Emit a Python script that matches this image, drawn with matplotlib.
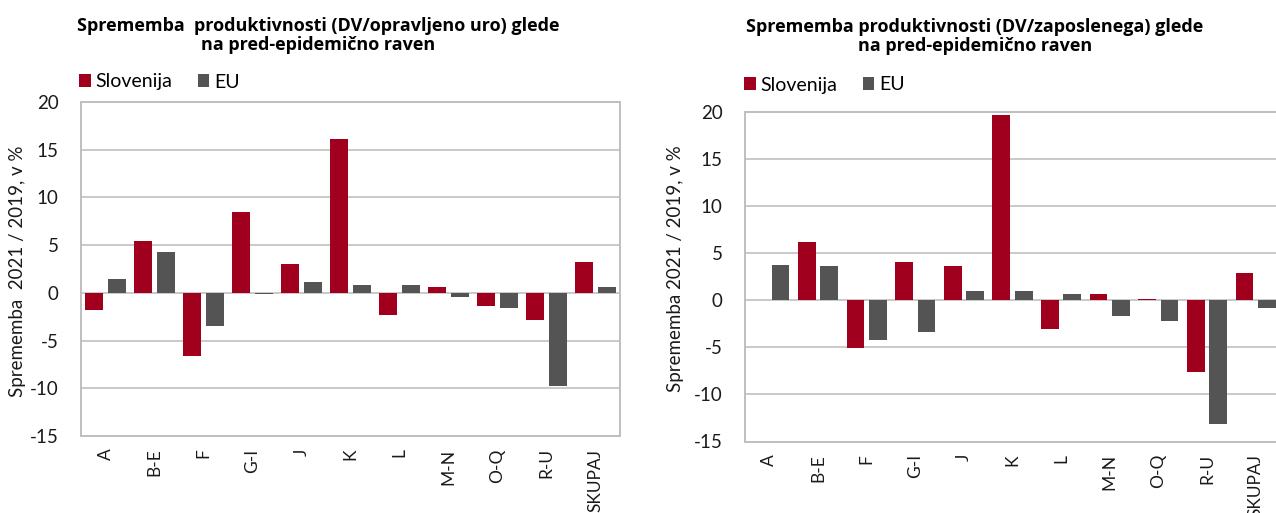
import numpy as np
import matplotlib.pyplot as plt

plt.rcParams['font.family'] = ['Lato', 'DejaVu Sans']

categories = ['A', 'B-E', 'F', 'G-I', 'J', 'K', 'L', 'M-N', 'O-Q', 'R-U', 'SKUPAJ']

# produktivnost na opravljeno uro
slo_ura = [-1.8, 5.4, -6.6, 8.5, 3.0, 16.1, -2.3, 0.6, -1.4, -2.8, 3.2]
eu_ura = [1.5, 4.3, -3.5, -0.1, 1.15, 0.85, 0.85, -0.45, -1.55, -9.75, 0.65]

# produktivnost na zaposlenega
slo_zap = [0.0, 6.2, -5.1, 4.05, 3.6, 19.7, -3.0, 0.65, 0.15, -7.6, 2.95]
eu_zap = [3.8, 3.65, -4.25, -3.4, 1.0, 1.0, 0.7, -1.65, -2.25, -13.1, -0.8]

titles = ['Sprememba  produktivnosti (DV/opravljeno uro) glede\nna pred-epidemično raven',
          'Sprememba produktivnosti (DV/zaposlenega) glede\nna pred-epidemično raven']
ylabels = ['Sprememba  2021 / 2019, v %', 'Sprememba 2021 / 2019, v %']

red = '#A0001E'
grey = '#545454'
W, H = 1276, 513

fig = plt.figure(figsize=(W / 100, H / 100), dpi=100)

def px_axes(x0, y0, x1, y1):
    return fig.add_axes([x0 / W, (H - y1) / H, (x1 - x0) / W, (y1 - y0) / H])

axes = [px_axes(81, 102, 620, 436), px_axes(745, 112, 1280, 441.5)]
data = [(slo_ura, eu_ura), (slo_zap, eu_zap)]
legend_pos = [(79, 82), (744, 85)]
title_x = [318, 975]
title_y = [17, 18]
ylab = [(18, 271), (675, 269)]

x = np.arange(len(categories))
bw = 0.365
for i, ax in enumerate(axes):
    slo, eu = data[i]
    ax.bar(x - 0.23, slo, bw, color=red, label='Slovenija', zorder=3)
    ax.bar(x + 0.23, eu, bw, color=grey, label='EU', zorder=3)
    ax.set_xlim(-0.5, len(categories) - 0.5)
    ax.set_ylim(-15, 20)
    ax.set_yticks(range(-15, 21, 5))
    ax.set_yticklabels([str(v) for v in range(-15, 21, 5)])
    ax.yaxis.grid(True, color='#C9C9C9', lw=1.4, zorder=0)
    ax.set_axisbelow(True)
    ax.set_xticks(x)
    ax.set_xticklabels(categories, rotation=90, va='top')
    ax.tick_params(axis='both', length=0, labelsize=13.5, colors='#1a1a1a')
    ax.tick_params(axis='x', pad=9, labelsize=12.5)
    ax.tick_params(axis='y', pad=16)
    for s in ax.spines.values():
        s.set_color('#BFBFBF')
        s.set_linewidth(1.4)
    fig.text(ylab[i][0] / W, 1 - ylab[i][1] / H, ylabels[i], rotation=90,
             ha='center', va='center', fontsize=13.5, color='#1a1a1a')
    fig.text(title_x[i] / W, 1 - title_y[i] / H, titles[i], ha='center', va='top',
             fontsize=13, fontweight='bold', family=['Open Sans', 'DejaVu Sans'],
             linespacing=1.05)
    lx, ly = legend_pos[i]
    ax.legend(loc='center left', bbox_to_anchor=(lx / W, 1 - ly / H), bbox_transform=fig.transFigure,
              ncol=2, frameon=False, fontsize=14, handlelength=0.6, handleheight=0.6,
              handletextpad=0.25, columnspacing=1.3, borderpad=0, borderaxespad=0)

plt.savefig('out.png', dpi=100)
